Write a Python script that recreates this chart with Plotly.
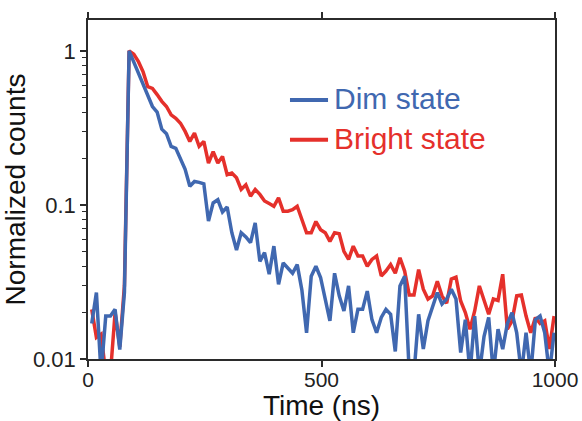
import plotly.graph_objects as go

time_ns = [8, 18, 28, 38, 48, 58, 68, 78, 88, 98,
           108, 118, 128, 138, 148, 158, 168, 178, 188, 198,
           208, 218, 228, 238, 248, 258, 268, 278, 288, 298,
           308, 318, 328, 338, 348, 358, 368, 378, 388, 398,
           408, 418, 428, 438, 448, 458, 468, 478, 488, 498,
           508, 518, 528, 538, 548, 558, 568, 578, 588, 598,
           608, 618, 628, 638, 648, 658, 668, 678, 688, 698,
           708, 718, 728, 738, 748, 758, 768, 778, 788, 798,
           808, 818, 828, 838, 848, 858, 868, 878, 888, 898,
           908, 918, 928, 938, 948, 958, 968, 978, 988, 998]

dim_state = [0.017, 0.027, 0.008, 0.019, 0.019, 0.021, 0.0115, 0.027, 1.0, 0.85,
             0.73, 0.61, 0.52, 0.435, 0.40, 0.31, 0.29, 0.24, 0.233, 0.196,
             0.17, 0.132, 0.142, 0.14, 0.137, 0.0785, 0.103, 0.108, 0.09, 0.097,
             0.066, 0.051, 0.066, 0.062, 0.057, 0.0765, 0.043, 0.049, 0.0355, 0.054,
             0.0305, 0.042, 0.039, 0.036, 0.041, 0.028, 0.0148, 0.0345, 0.040, 0.0338,
             0.0245, 0.0177, 0.036, 0.0257, 0.0205, 0.0298, 0.0148, 0.021, 0.021, 0.0276,
             0.018, 0.0148, 0.0186, 0.021, 0.0195, 0.0112, 0.0298, 0.0345, 0.008, 0.008,
             0.0195, 0.0116, 0.0177, 0.0221, 0.027, 0.0227, 0.0245, 0.0284, 0.0245, 0.011,
             0.018, 0.008, 0.019, 0.008, 0.014, 0.0186, 0.008, 0.0156, 0.0116, 0.017,
             0.020, 0.0148, 0.008, 0.0148, 0.008, 0.018, 0.019, 0.0148, 0.008, 0.0148]

bright_state = [0.021, 0.0138, 0.0145, 0.008, 0.008, 0.02, 0.012, 0.03, 1.0, 0.95,
                0.85, 0.73, 0.585, 0.57, 0.52, 0.47, 0.435, 0.384, 0.365, 0.339,
                0.30, 0.258, 0.292, 0.24, 0.258, 0.187, 0.222, 0.187, 0.206, 0.157,
                0.161, 0.15, 0.126, 0.135, 0.114, 0.126, 0.117, 0.106, 0.102, 0.098,
                0.111, 0.091, 0.091, 0.093, 0.098, 0.080, 0.066, 0.066, 0.078, 0.069,
                0.066, 0.058, 0.066, 0.065, 0.050, 0.0443, 0.054, 0.0466, 0.0466, 0.040,
                0.0443, 0.0466, 0.0346, 0.0372, 0.041, 0.036, 0.0454, 0.0372, 0.026, 0.026,
                0.038, 0.0284, 0.0245, 0.0257, 0.032, 0.0257, 0.023, 0.033, 0.034, 0.0238,
                0.020, 0.0156, 0.0205, 0.0298, 0.0245, 0.0195, 0.0245, 0.024, 0.0355, 0.0156,
                0.0177, 0.0257, 0.026, 0.019, 0.0148, 0.0186, 0.017, 0.0177, 0.0116, 0.019]

x_tick_vals = [0, 500, 1000]
x_tick_text = ["0", "500", "1000"]
y_tick_vals = [0.01, 0.1, 1]
y_tick_text = ["0.01", "0.1", "1"]
y_minor_vals = [0.02, 0.03, 0.04, 0.05, 0.06, 0.07, 0.08, 0.09,
                0.2, 0.3, 0.4, 0.5, 0.6, 0.7, 0.8, 0.9]
series_names = ["Dim state", "Bright state"]

BLUE = "#4068B0"
RED = "#E5302B"
FONT = "Liberation Sans, Arial, sans-serif"
AX = "#2b2b2b"

fig = go.Figure()
fig.add_trace(go.Scatter(x=time_ns, y=bright_state, mode="lines", name=series_names[1],
                         line=dict(color=RED, width=3.5), showlegend=False))
fig.add_trace(go.Scatter(x=time_ns, y=dim_state, mode="lines", name=series_names[0],
                         line=dict(color=BLUE, width=3.5), showlegend=False))

# manual legend (line sample + coloured label)
legend_rows = [(series_names[0], BLUE, 0.764), (series_names[1], RED, 0.647)]
for name, col, yy in legend_rows:
    fig.add_shape(type="line", xref="paper", yref="paper", x0=0.4325, x1=0.514,
                  y0=yy, y1=yy, line=dict(color=col, width=4))
    fig.add_annotation(xref="paper", yref="paper", x=0.522, y=yy + 0.004,
                       xanchor="left", yanchor="middle", showarrow=False, text=name,
                       font=dict(size=30, color=col, family=FONT))

fig.update_layout(
    width=582, height=421,
    margin=dict(l=88, r=27, t=20, b=62, autoexpand=False),
    paper_bgcolor="white", plot_bgcolor="white",
    font=dict(family=FONT, color="#222", size=20),
    xaxis=dict(range=[0, 1000], tickmode="array", tickvals=x_tick_vals, ticktext=x_tick_text,
               ticks="outside", ticklen=6, tickwidth=1.5, tickcolor=AX,
               showline=True, linecolor=AX, linewidth=1.5, mirror="ticks",
               showgrid=False, zeroline=False, automargin=False,
               ticklabelstandoff=-5,
               tickfont=dict(size=21, family=FONT, color="#222"),
               title=dict(text="Time (ns)", font=dict(size=28, family=FONT, color="#111"),
                          standoff=0)),
    yaxis=dict(type="log", range=[-2, 0.2], tickmode="array", tickvals=y_tick_vals,
               ticktext=y_tick_text, ticks="outside", ticklen=6, tickwidth=1.5, tickcolor=AX,
               minor=dict(tickmode="array", tickvals=y_minor_vals, ticks="outside",
                          ticklen=4, tickwidth=1.2, tickcolor=AX, showgrid=False),
               showline=True, linecolor=AX, linewidth=1.5, mirror=True,
               showgrid=False, zeroline=False, automargin=False,
               tickfont=dict(size=22, family=FONT, color="#222"),
               title=dict(text="Normalized counts", font=dict(size=28, family=FONT, color="#111"),
                          standoff=0)),
)

# remove the default 8 px page margin so the 582x421 figure fills the window exactly,
# then redraw so every element is measured in its final position
post = ("document.body.style.margin='0';"
        "var gd=document.getElementById('{plot_id}');"
        "Plotly.newPlot(gd, gd.data, gd.layout, {displayModeBar:false});")
fig.write_html("out.html", config={"displayModeBar": False}, post_script=post)
